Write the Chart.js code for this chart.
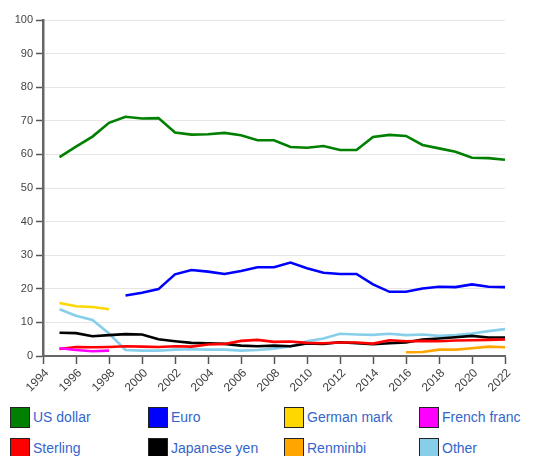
<!DOCTYPE html>
<html>
<head>
<meta charset="utf-8">
<script src="https://cdn.jsdelivr.net/npm/chart.js@4"></script>
<style>
  html, body { margin: 0; padding: 0; background: #fff; }
  body { width: 536px; height: 456px; position: relative; overflow: hidden; font-family: "Liberation Sans", Arial, sans-serif; }
  #wrap { position: absolute; left: 0; top: 0; width: 536px; height: 400px; }
  #legend { position: absolute; left: 0; top: 407px; width: 536px; }
  .item { position: absolute; height: 21px; line-height: 21px; font-size: 14px; color: #3366cc; white-space: nowrap; }
  .item span.box { position: absolute; left: 0; top: 0; width: 18px; height: 19px; border: 1px solid #222; }
  .item span.txt { position: absolute; left: 23px; top: 0; }
</style>
</head>
<body>
<div id="wrap"><canvas id="reserveChart"></canvas></div>
<div id="legend"></div>
<script>
const years = [1995, 1996, 1997, 1998, 1999, 2000, 2001, 2002, 2003, 2004, 2005, 2006, 2007, 2008,
  2009, 2010, 2011, 2012, 2013, 2014, 2015, 2016, 2017, 2018, 2019, 2020, 2021, 2022];

const usDollar = [59.2, 62.3, 65.3, 69.4, 71.2, 70.7, 70.8, 66.5, 65.9, 66.0, 66.4, 65.7, 64.2, 64.2,
  62.2, 62.0, 62.5, 61.3, 61.3, 65.2, 65.8, 65.5, 62.8, 61.8, 60.8, 59.0, 58.9, 58.4];
const euro = [null, null, null, null, 18.0, 18.8, 19.9, 24.3, 25.6, 25.1, 24.4, 25.3, 26.4, 26.4,
  27.8, 26.1, 24.8, 24.4, 24.4, 21.3, 19.1, 19.1, 20.1, 20.6, 20.5, 21.3, 20.6, 20.5];
const germanMark = [15.8, 14.8, 14.6, 13.9, null, null, null, null, null, null, null, null, null, null,
  null, null, null, null, null, null, null, null, null, null, null, null, null, null];
const frenchFranc = [2.3, 1.8, 1.4, 1.6, null, null, null, null, null, null, null, null, null, null,
  null, null, null, null, null, null, null, null, null, null, null, null, null, null];
const sterling = [2.1, 2.7, 2.6, 2.7, 2.9, 2.8, 2.7, 2.9, 2.8, 3.4, 3.6, 4.5, 4.8, 4.2,
  4.3, 3.9, 3.8, 4.0, 4.0, 3.7, 4.7, 4.4, 4.5, 4.4, 4.6, 4.7, 4.8, 4.9];
const japaneseYen = [6.9, 6.8, 5.9, 6.2, 6.5, 6.4, 5.0, 4.4, 3.9, 3.8, 3.6, 3.1, 2.9, 3.1,
  2.9, 3.7, 3.6, 4.1, 3.8, 3.5, 3.8, 4.0, 4.9, 5.2, 5.6, 6.0, 5.5, 5.5];
const renminbi = [null, null, null, null, null, null, null, null, null, null, null, null, null, null,
  null, null, null, null, null, null, null, 1.1, 1.2, 1.9, 1.9, 2.3, 2.8, 2.6];
const other = [13.9, 12.0, 10.7, 6.7, 1.8, 1.6, 1.6, 1.9, 2.0, 1.9, 1.9, 1.6, 1.8, 2.2,
  2.9, 4.4, 5.2, 6.6, 6.4, 6.3, 6.6, 6.2, 6.4, 6.0, 6.2, 6.7, 7.4, 8.0];

const yTicks = [0, 10, 20, 30, 40, 50, 60, 70, 80, 90, 100];

const series = [
  { label: 'US dollar', values: usDollar, color: '#008000' },
  { label: 'Euro', values: euro, color: '#0000ff' },
  { label: 'German mark', values: germanMark, color: '#ffd700' },
  { label: 'French franc', values: frenchFranc, color: '#ff00ff' },
  { label: 'Sterling', values: sterling, color: '#ff0000' },
  { label: 'Japanese yen', values: japaneseYen, color: '#000000' },
  { label: 'Renminbi', values: renminbi, color: '#ffa500' },
  { label: 'Other', values: other, color: '#87ceeb' }
];

const datasets = series.map(s => ({
  label: s.label,
  data: years.map((yr, i) => ({ x: yr, y: s.values[i] })),
  borderColor: s.color,
  backgroundColor: s.color,
  borderWidth: 2.6,
  pointRadius: 0,
  tension: 0,
  spanGaps: false
}));

const fontFamily = '"Liberation Sans", Arial, sans-serif';

const ctx = document.getElementById('reserveChart').getContext('2d');
const chart = new Chart(ctx, {
  type: 'line',
  data: { datasets: datasets },
  options: {
    responsive: true,
    maintainAspectRatio: false,
    animation: false,
    layout: { padding: { top: 20, right: 31, left: 0, bottom: 0 } },
    plugins: { legend: { display: false }, tooltip: { enabled: false } },
    scales: {
      x: {
        type: 'linear',
        min: 1994,
        max: 2022,
        ticks: {
          stepSize: 2,
          color: '#444',
          font: { family: fontFamily, size: 12 },
          minRotation: 45,
          maxRotation: 45,
          padding: 2,
          labelOffset: 4,
          callback: v => String(v)
        },
        grid: { drawOnChartArea: false, tickLength: 8, tickColor: '#555', tickWidth: 1.5 },
        border: { color: '#666', width: 2 },
        afterFit: scale => { scale.height = 44; }
      },
      y: {
        min: 0,
        max: 100,
        afterBuildTicks: scale => { scale.ticks = yTicks.map(v => ({ value: v })); },
        ticks: { color: '#444', font: { family: fontFamily, size: 11 }, padding: 3 },
        grid: { color: '#e6e6e6', lineWidth: 1, tickLength: 7, tickColor: '#555', tickWidth: 1.5 },
        border: { color: '#666', width: 2.5 },
        afterFit: scale => { scale.width = 43; }
      }
    }
  }
});

// HTML legend, 4 columns x 2 rows
const legendEl = document.getElementById('legend');
const colX = [10, 148, 284, 419];
series.forEach((s, i) => {
  const item = document.createElement('div');
  item.className = 'item';
  item.style.left = colX[i % 4] + 'px';
  item.style.top = (Math.floor(i / 4) * 31) + 'px';
  item.innerHTML = '<span class="box" style="background:' + s.color + '"></span><span class="txt">' + s.label + '</span>';
  legendEl.appendChild(item);
});
</script>
</body>
</html>
